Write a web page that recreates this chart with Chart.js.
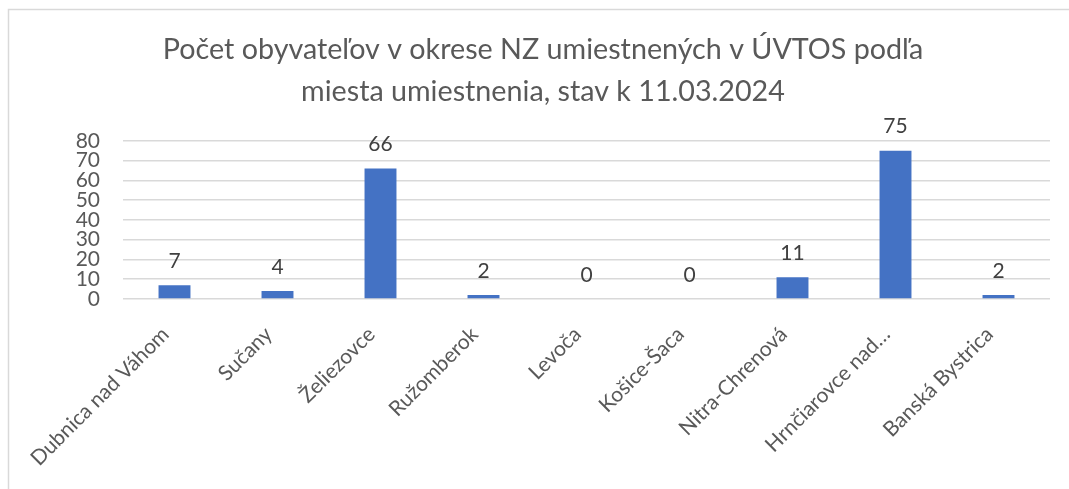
<!DOCTYPE html>
<html>
<head>
<meta charset="utf-8">
<script src="https://cdn.jsdelivr.net/npm/chart.js@4"></script>
<style>
  html, body { margin: 0; padding: 0; background: #fff; }
  #wrap { width: 1069px; height: 489px; position: relative; }
</style>
</head>
<body>
<div id="wrap"><canvas id="myChart"></canvas></div>
<script>
const labels = [
  'Dubnica nad Váhom', 'Sučany', 'Želiezovce', 'Ružomberok', 'Levoča',
  'Košice-Šaca', 'Nitra-Chrenová', 'Hrnčiarovce nad…', 'Banská Bystrica'
];
const counts = [7, 4, 66, 2, 0, 0, 11, 75, 2];
const yTicks = [0, 10, 20, 30, 40, 50, 60, 70, 80];
const titleLines = [
  'Počet obyvateľov v okrese NZ umiestnených v ÚVTOS podľa',
  'miesta umiestnenia, stav k 11.03.2024'
];

const FONT = 'Lato, "Open Sans", sans-serif';

// frame around the chart (left + top only visible in the picture)
const frame = {
  id: 'frame',
  beforeDraw(chart) {
    const c = chart.ctx;
    c.save();
    c.strokeStyle = '#d9d9d9';
    c.lineWidth = 1.5;
    c.beginPath();
    c.moveTo(8.5, 489);
    c.lineTo(8.5, 9.5);
    c.lineTo(1069, 9.5);
    c.stroke();
    c.restore();
  }
};

// values above bars
const valueLabels = {
  id: 'valueLabels',
  afterDatasetsDraw(chart) {
    const c = chart.ctx;
    const meta = chart.getDatasetMeta(0);
    c.save();
    c.font = '21px ' + FONT;
    c.fillStyle = '#404040';
    c.textAlign = 'center';
    c.textBaseline = 'middle';
    meta.data.forEach((bar, i) => {
      c.fillText(String(counts[i]), bar.x, bar.y - 24);
    });
    c.restore();
  }
};

const ctx = document.getElementById('myChart');
const myChart = new Chart(ctx, {
  type: 'bar',
  data: {
    labels: labels,
    datasets: [{
      data: counts,
      backgroundColor: '#4472c4',
      borderWidth: 0,
      barPercentage: 0.31,
      categoryPercentage: 1
    }]
  },
  options: {
    responsive: true,
    maintainAspectRatio: false,
    animation: false,
    layout: { padding: { left: 36, right: 19, top: 0, bottom: 0 } },
    plugins: {
      legend: { display: false },
      tooltip: { enabled: false },
      title: {
        display: true,
        text: titleLines,
        color: '#595959',
        font: { family: FONT, size: 28.7, weight: 'normal', lineHeight: 1.46 },
        padding: { top: 29, bottom: 28 }
      }
    },
    scales: {
      x: {
        grid: { display: false, drawTicks: false },
        border: { display: false },
        ticks: {
          color: '#595959',
          font: { family: FONT, size: 21 },
          minRotation: 45,
          maxRotation: 45,
          autoSkip: false,
          padding: 23,
          labelOffset: -9
        },
        afterFit(scale) { scale.height = 190; }
      },
      y: {
        min: 0,
        max: 80,
        grid: { color: '#d9d9d9', lineWidth: 1.5, drawTicks: false },
        border: { display: false },
        afterBuildTicks(scale) { scale.ticks = yTicks.map(v => ({ value: v })); },
        ticks: {
          color: '#595959',
          font: { family: FONT, size: 21 },
          padding: 23,
          autoSkip: false
        },
        afterFit(scale) { scale.width = 87; }
      }
    }
  },
  plugins: [frame, valueLabels]
});
</script>
</body>
</html>
